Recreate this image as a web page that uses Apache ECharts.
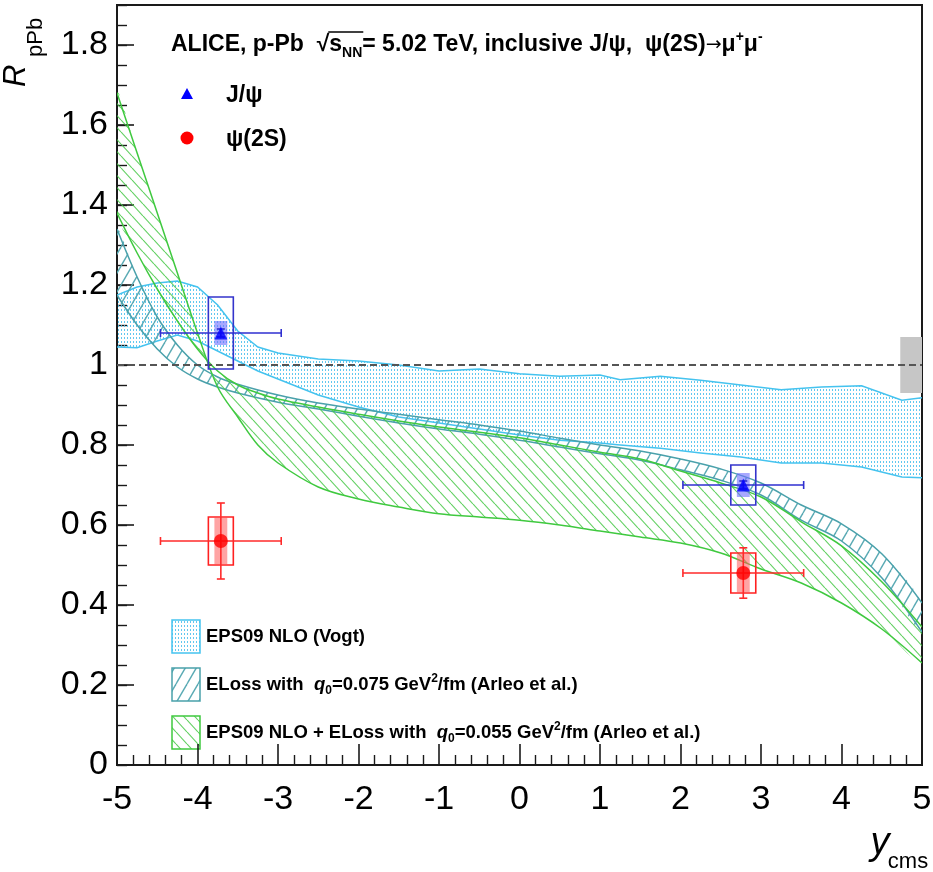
<!DOCTYPE html>
<html>
<head>
<meta charset="utf-8">
<script src="https://cdn.jsdelivr.net/npm/echarts@6/dist/echarts.min.js"></script>
<style>
  html, body { margin: 0; padding: 0; background: #fff; }
  #chart { width: 933px; height: 872px; }
</style>
</head>
<body>
<div id="chart"></div>
<script>
// ---- axis ranges ----
const X_RANGE = [-5, 5];
const Y_RANGE = [0, 1.9];
const UNITY = 1;

// ---- EPS09 NLO (Vogt) band ----
const vogtRap = [-5, -4.75, -4.5, -4.25, -4, -3.75, -3.5, -3.25, -3, -2.5, -2, -1.5, -1, -0.5, 0, 0.5, 1, 1.25, 1.75, 2.25, 2.75, 3.25, 3.75, 4.25, 4.75, 5];
const vogtHi  = [1.175, 1.195, 1.205, 1.21, 1.195, 1.15, 1.085, 1.045, 1.03, 1.015, 1.01, 1.0, 0.985, 0.99, 0.978, 0.972, 0.975, 0.963, 0.972, 0.962, 0.95, 0.938, 0.945, 0.948, 0.912, 0.918];
const vogtLo  = [1.045, 1.043, 1.06, 1.075, 1.06, 1.035, 1.01, 0.985, 0.965, 0.925, 0.895, 0.87, 0.855, 0.84, 0.825, 0.812, 0.805, 0.8, 0.792, 0.78, 0.77, 0.755, 0.755, 0.745, 0.72, 0.718];

// ---- ELoss q0 = 0.075 GeV^2/fm band ----
const elossRap = [-5, -4.75, -4.5, -4.25, -4, -3.75, -3.5, -3, -2.5, -2, -1.5, -1, -0.5, 0, 0.5, 1, 1.5, 2, 2.5, 3, 3.5, 4, 4.5, 5];
const elossHi  = [1.34, 1.22, 1.12, 1.05, 1.0, 0.97, 0.952, 0.925, 0.905, 0.89, 0.877, 0.863, 0.85, 0.835, 0.817, 0.8, 0.785, 0.765, 0.74, 0.705, 0.65, 0.603, 0.528, 0.405];
const elossLo  = [1.175, 1.10, 1.04, 0.995, 0.965, 0.945, 0.93, 0.907, 0.89, 0.872, 0.855, 0.84, 0.827, 0.812, 0.795, 0.778, 0.762, 0.738, 0.712, 0.675, 0.612, 0.56, 0.468, 0.332];

// ---- EPS09 NLO + ELoss q0 = 0.055 GeV^2/fm band (two edges, crossing near y = -3.85) ----
const comboRap   = [-5, -4.75, -4.5, -4.25, -4, -3.75, -3.5, -3.25, -3, -2.5, -2, -1.5, -1, -0.5, 0, 0.5, 1, 1.5, 2, 2.5, 3, 3.5, 4, 4.5, 5];
const comboEdgeA = [1.68, 1.53, 1.38, 1.23, 1.08, 0.945, 0.87, 0.80, 0.755, 0.695, 0.665, 0.645, 0.628, 0.62, 0.612, 0.6, 0.585, 0.57, 0.555, 0.53, 0.49, 0.455, 0.405, 0.34, 0.255];
const comboEdgeB = [1.38, 1.28, 1.19, 1.11, 1.04, 0.985, 0.95, 0.93, 0.915, 0.895, 0.877, 0.86, 0.845, 0.832, 0.818, 0.8, 0.782, 0.765, 0.735, 0.705, 0.67, 0.608, 0.548, 0.458, 0.345];

// ---- measured points (backward, forward rapidity bins) ----
const binCentre = [-3.71, 2.78];
const binLow    = [-4.46, 2.03];
const binHigh   = [-2.96, 3.53];
const jpsiR     = [1.08, 0.70];
const jpsiStat  = [0.01, 0.01];
const jpsiSyst  = [0.09, 0.05];
const jpsiCorr  = [0.03, 0.03];
const psi2sR    = [0.56, 0.48];
const psi2sStat = [0.095, 0.063];
const psi2sSyst = [0.06, 0.05];
const psi2sCorr = [0.058, 0.048];
const globalUnc = 0.07;

// ---- drawing constants ----
const FONT = '"Liberation Sans", Arial, Helvetica, sans-serif';
const BOX_HALF = 0.155;   // half width of the systematic boxes (rapidity units)
const FILL_HALF = 0.08;   // half width of the correlated-uncertainty boxes
const GLOBAL_W = 0.27;    // width of the global uncertainty box at y = 5
const C_CYAN = '#45c3ef', C_TEAL = '#4aa1ab', C_GREEN = '#3fc93f';

// Fill patterns: dots for the Vogt band, hatching for the ELoss bands.
function makePattern(w, h, draw) {
  const cv = document.createElement('canvas');
  cv.width = w; cv.height = h;
  draw(cv.getContext('2d'), w, h);
  return { image: cv, repeat: 'repeat' };
}
const dotFill = makePattern(3, 4, (g) => {
  g.fillStyle = 'rgba(70,190,236,0.85)';
  g.fillRect(1, 1, 1, 2);
});
const slashFill = makePattern(11, 19, (g, w, h) => {
  g.strokeStyle = '#5aaab4'; g.lineWidth = 1.4;
  [[0, h, w, 0], [-w, h, 0, 0], [w, h, 2 * w, 0]].forEach(([a, b, c, d]) => {
    g.beginPath(); g.moveTo(a, b); g.lineTo(c, d); g.stroke();
  });
});
const backFill = makePattern(11, 12, (g, w, h) => {
  g.strokeStyle = 'rgba(70,200,70,0.85)'; g.lineWidth = 1.1;
  [[0, 0, w, h], [-w, 0, 0, h], [w, 0, 2 * w, h]].forEach(([a, b, c, d]) => {
    g.beginPath(); g.moveTo(a, b); g.lineTo(c, d); g.stroke();
  });
});

function bandSeries(name, xs, edge1, edge2, fill, stroke, smooth, z) {
  return {
    type: 'custom', name: name, z: z, silent: true, clip: true,
    data: [[xs[0], edge1[0]]],
    renderItem: function (params, api) {
      const p1 = xs.map((x, i) => api.coord([x, edge1[i]]));
      const p2 = xs.map((x, i) => api.coord([x, edge2[i]]));
      const poly = p1.concat(p2.slice().reverse());
      return {
        type: 'group', children: [
          { type: 'polygon', shape: { points: poly, smooth: smooth }, style: { fill: fill, stroke: null } },
          { type: 'polyline', shape: { points: p1, smooth: smooth }, style: { fill: null, stroke: stroke, lineWidth: 1.5 } },
          { type: 'polyline', shape: { points: p2, smooth: smooth }, style: { fill: null, stroke: stroke, lineWidth: 1.5 } }
        ]
      };
    }
  };
}

function pointErrors(col) {
  return function (params, api) {
    const x = api.value(0), y = api.value(1);
    const xl = api.value(2), xh = api.value(3);
    const st = api.value(4), sy = api.value(5), co = api.value(6);
    const l = api.coord([xl, y]), r = api.coord([xh, y]);
    const t = api.coord([x, y + st]), b = api.coord([x, y - st]);
    const s0 = api.coord([x - BOX_HALF, y + sy]), s1 = api.coord([x + BOX_HALF, y - sy]);
    const f0 = api.coord([x - FILL_HALF, y + co]), f1 = api.coord([x + FILL_HALF, y - co]);
    const cap = 4;
    const ln = (x1, y1, x2, y2) => ({ type: 'line', shape: { x1: x1, y1: y1, x2: x2, y2: y2 }, style: { stroke: col.bar, lineWidth: 1.6 } });
    return {
      type: 'group', children: [
        { type: 'rect', shape: { x: f0[0], y: f0[1], width: f1[0] - f0[0], height: f1[1] - f0[1] }, style: { fill: col.fill } },
        { type: 'rect', shape: { x: s0[0], y: s0[1], width: s1[0] - s0[0], height: s1[1] - s0[1] }, style: { fill: null, stroke: col.box, lineWidth: 1.6 } },
        ln(l[0], l[1], r[0], r[1]),
        ln(l[0], l[1] - cap, l[0], l[1] + cap),
        ln(r[0], r[1] - cap, r[0], r[1] + cap),
        ln(t[0], t[1], b[0], b[1]),
        ln(t[0] - cap, t[1], t[0] + cap, t[1]),
        ln(b[0] - cap, b[1], b[0] + cap, b[1])
      ]
    };
  };
}

const jpsiRows = binCentre.map((x, i) => [x, jpsiR[i], binLow[i], binHigh[i], jpsiStat[i], jpsiSyst[i], jpsiCorr[i]]);
const psiRows = binCentre.map((x, i) => [x, psi2sR[i], binLow[i], binHigh[i], psi2sStat[i], psi2sSyst[i], psi2sCorr[i]]);

// text width helper for the sqrt overline in the header
const meas = document.createElement('canvas').getContext('2d');
function textW(font, s) { meas.font = font; return meas.measureText(s).width; }
const HB = 'bold 23px ' + FONT, HS = 'bold 14px ' + FONT;
const LB = 'bold 18.5px ' + FONT;
const headX = 171, headY = 45;
const sqrtStart = headX + textW(HB, 'ALICE, p-Pb  \u221A');
const sqrtEnd = sqrtStart + textW(HB, 's') + textW(HS, 'NN');

const chart = echarts.init(document.getElementById('chart'), null, { renderer: 'canvas' });

const axisCol = '#1a1a1a';
const modelRich = {
  b: { font: LB, fill: '#000', lineHeight: 24 },
  q: { font: 'italic ' + LB, fill: '#000', lineHeight: 24 },
  sub: { font: 'bold 12px ' + FONT, fill: '#000', verticalAlign: 'bottom', lineHeight: 8 },
  sup: { font: 'bold 12px ' + FONT, fill: '#000', verticalAlign: 'top', lineHeight: 12 }
};

chart.setOption({
  animation: false,
  backgroundColor: '#fff',
  grid: { left: 117, right: 11, top: 5, bottom: 107, show: true, borderColor: axisCol, borderWidth: 2, backgroundColor: 'transparent', outerBoundsMode: 'none' },
  xAxis: {
    type: 'value', min: X_RANGE[0], max: X_RANGE[1], interval: 1,
    axisLine: { show: true, onZero: false, lineStyle: { color: axisCol, width: 2 } },
    axisTick: { show: true, inside: true, length: 21, lineStyle: { color: axisCol, width: 1.6 } },
    minorTick: { show: true, splitNumber: 5, length: 10, lineStyle: { color: axisCol, width: 1.4 } },
    axisLabel: { fontSize: 34, color: '#000', fontFamily: FONT, margin: 18 },
    splitLine: { show: false }, minorSplitLine: { show: false }
  },
  yAxis: [{
    type: 'value', min: Y_RANGE[0], max: Y_RANGE[1], interval: 0.2,
    axisLine: { show: true, onZero: false, lineStyle: { color: axisCol, width: 2 } },
    axisTick: { show: true, inside: true, length: 17, lineStyle: { color: axisCol, width: 1.6 } },
    axisLabel: { fontSize: 34, color: '#000', fontFamily: FONT, margin: 9, showMaxLabel: false },
    splitLine: { show: false }
  }, {
    type: 'value', min: Y_RANGE[0], max: Y_RANGE[1], interval: 0.05, position: 'left',
    axisLine: { show: false, onZero: false },
    axisTick: { show: true, inside: true, length: 10, lineStyle: { color: axisCol, width: 1.4 } },
    axisLabel: { show: false }, splitLine: { show: false }
  }],
  series: [
    bandSeries('EPS09 NLO (Vogt)', vogtRap, vogtHi, vogtLo, dotFill, C_CYAN, false, 2),
    bandSeries('ELoss 0.075', elossRap, elossHi, elossLo, slashFill, C_TEAL, 0.35, 3),
    bandSeries('EPS09 NLO + ELoss 0.055', comboRap, comboEdgeA, comboEdgeB, backFill, C_GREEN, 0.35, 4),
    {
      type: 'custom', name: 'global', z: 5, silent: true,
      data: [[X_RANGE[1], UNITY, globalUnc]],
      renderItem: function (params, api) {
        const a = api.coord([api.value(0) - GLOBAL_W, api.value(1) + api.value(2)]);
        const b = api.coord([api.value(0), api.value(1) - api.value(2)]);
        return { type: 'rect', shape: { x: a[0], y: a[1], width: b[0] - a[0], height: b[1] - a[1] }, style: { fill: '#c6c6c6' } };
      }
    },
    {
      type: 'line', name: 'unity', z: 6, silent: true, symbol: 'none',
      data: X_RANGE.map(x => [x, UNITY]),
      lineStyle: { color: '#555', width: 2, type: [7, 4] }
    },
    {
      type: 'custom', name: 'J/psi errors', z: 7, silent: true,
      data: jpsiRows, encode: { x: 0, y: 1 },
      renderItem: pointErrors({ bar: '#2f2fd0', box: '#3434cc', fill: 'rgba(110,110,255,0.6)' })
    },
    {
      type: 'custom', name: 'psi(2S) errors', z: 7, silent: true,
      data: psiRows, encode: { x: 0, y: 1 },
      renderItem: pointErrors({ bar: '#ff2a2a', box: '#ff2020', fill: 'rgba(255,90,90,0.55)' })
    },
    {
      type: 'scatter', name: 'J/psi', z: 8, silent: true,
      symbol: 'triangle', symbolSize: [13, 13],
      itemStyle: { color: '#0000ff' },
      data: binCentre.map((x, i) => [x, jpsiR[i]])
    },
    {
      type: 'scatter', name: 'psi(2S)', z: 8, silent: true,
      symbol: 'circle', symbolSize: 14,
      itemStyle: { color: '#ff0000' },
      data: binCentre.map((x, i) => [x, psi2sR[i]])
    }
  ],
  graphic: [
    // axis titles
    { type: 'text', x: 16, y: 87, rotation: Math.PI / 2, style: { text: 'R', font: 'italic 31px ' + FONT, fill: '#000', align: 'left', verticalAlign: 'middle' } },
    { type: 'text', x: 36, y: 57, rotation: Math.PI / 2, style: { text: 'pPb', font: '22px ' + FONT, fill: '#000', align: 'left', verticalAlign: 'middle' } },
    { type: 'text', x: 880, y: 843, style: { text: 'y', font: 'italic 38px ' + FONT, fill: '#000', align: 'center', verticalAlign: 'middle' } },
    { type: 'text', x: 908, y: 862, style: { text: 'cms', font: '22px ' + FONT, fill: '#000', align: 'center', verticalAlign: 'middle' } },
    // header
    {
      type: 'text', x: headX, y: headY,
      style: {
        text: '{b|ALICE, p-Pb  \u221A}{b|s}{sub|NN}{b|= 5.02 TeV, inclusive J/\u03C8,  \u03C8(2S)}{arr|\u2192}{b|\u03BC}{sup|+}{b|\u03BC}{sup|-}',
        align: 'left', verticalAlign: 'middle',
        rich: {
          b: { font: HB, fill: '#000', lineHeight: 30 },
          arr: { font: '19px "DejaVu Sans", ' + FONT, fill: '#000', lineHeight: 30 },
          sub: { font: HS, fill: '#000', verticalAlign: 'bottom', lineHeight: 16 },
          sup: { font: HS, fill: '#000', verticalAlign: 'top', lineHeight: 16 }
        }
      }
    },
    { type: 'line', shape: { x1: sqrtStart - 1, y1: headY - 13, x2: sqrtEnd + 1, y2: headY - 13 }, style: { stroke: '#000', lineWidth: 1.5 } },
    // marker legend
    { type: 'polygon', shape: { points: [[187, 88], [181, 99], [193, 99]] }, style: { fill: '#0000ff' } },
    { type: 'text', x: 226, y: 96, style: { text: 'J/\u03C8', font: HB, fill: '#000', align: 'left', verticalAlign: 'middle' } },
    { type: 'circle', shape: { cx: 187, cy: 138, r: 6.5 }, style: { fill: '#ff0000' } },
    { type: 'text', x: 226, y: 140, style: { text: '\u03C8(2S)', font: HB, fill: '#000', align: 'left', verticalAlign: 'middle' } },
    // model legend
    { type: 'rect', shape: { x: 172, y: 620, width: 28, height: 33 }, style: { fill: dotFill, stroke: C_CYAN, lineWidth: 1.5 } },
    { type: 'rect', shape: { x: 172, y: 668, width: 28, height: 33 }, style: { fill: slashFill, stroke: C_TEAL, lineWidth: 1.5 } },
    { type: 'rect', shape: { x: 172, y: 716, width: 28, height: 33 }, style: { fill: backFill, stroke: C_GREEN, lineWidth: 1.5 } },
    { type: 'text', x: 206, y: 637, style: { text: 'EPS09 NLO (Vogt)', font: LB, fill: '#000', align: 'left', verticalAlign: 'middle' } },
    {
      type: 'text', x: 206, y: 685,
      style: {
        text: '{b|ELoss with  }{q|q}{sub|0}{b|=0.075 GeV}{sup|2}{b|/fm (Arleo et al.)}',
        align: 'left', verticalAlign: 'middle', rich: modelRich
      }
    },
    {
      type: 'text', x: 206, y: 733,
      style: {
        text: '{b|EPS09 NLO + ELoss with  }{q|q}{sub|0}{b|=0.055 GeV}{sup|2}{b|/fm (Arleo et al.)}',
        align: 'left', verticalAlign: 'middle', rich: modelRich
      }
    }
  ]
});
</script>
</body>
</html>
